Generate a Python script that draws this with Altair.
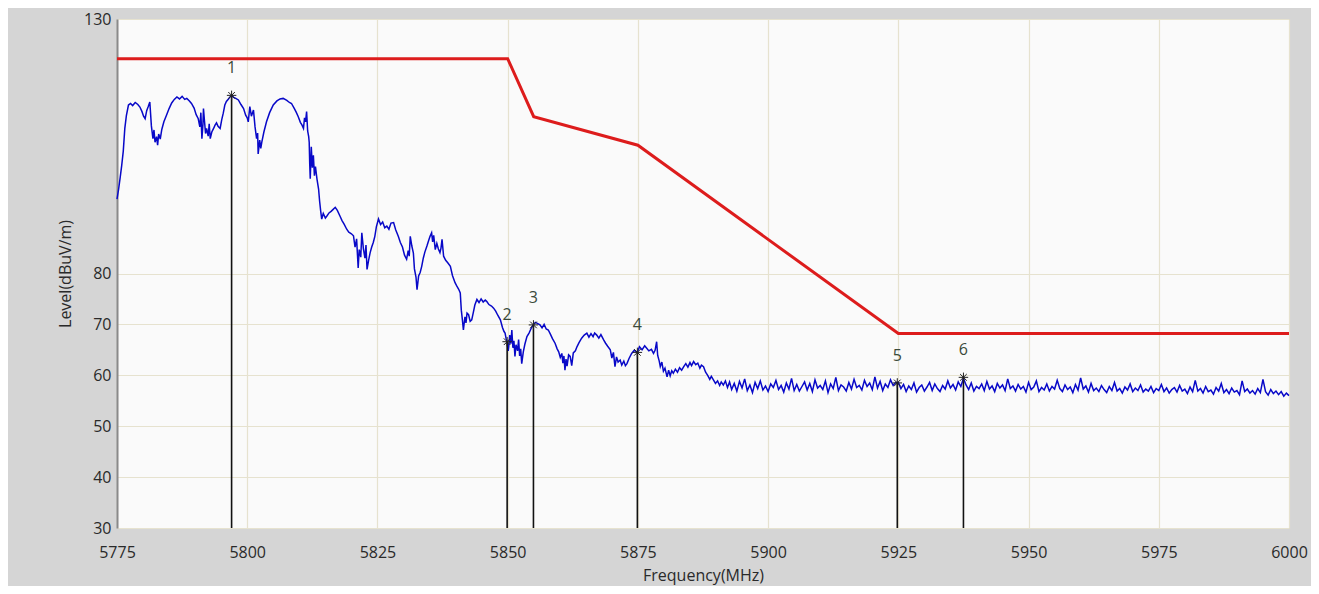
import altair as alt
import pandas as pd

trace_freq = [
    5775.0, 5775.3, 5775.6, 5775.9, 5776.2, 5776.5, 5776.8, 5777.2, 5777.6, 5778.0,
    5778.5, 5779.0, 5779.4, 5779.8, 5780.1, 5780.4, 5780.7, 5781.0, 5781.3, 5781.6,
    5781.9, 5782.1, 5782.3, 5782.6, 5782.8, 5783.0, 5783.3, 5783.6, 5784.0, 5784.5,
    5785.0, 5785.5, 5786.0, 5786.5, 5787.0, 5787.5, 5788.0, 5788.4, 5788.9, 5789.3,
    5789.8, 5790.2, 5790.6, 5790.9, 5791.1, 5791.3, 5791.5, 5791.6, 5791.8, 5792.0,
    5792.2, 5792.5, 5792.7, 5792.9, 5793.2, 5793.5, 5793.8, 5794.1, 5794.4, 5794.8,
    5795.1, 5795.4, 5795.7, 5796.0, 5796.4, 5796.7, 5797.0, 5797.4, 5797.8, 5798.3,
    5798.8, 5799.3, 5799.7, 5800.0, 5800.2, 5800.5, 5800.8, 5801.2, 5801.5, 5801.8,
    5802.0, 5802.1, 5802.4, 5802.6, 5802.8, 5803.2, 5803.7, 5804.3, 5805.0, 5805.7,
    5806.3, 5806.9, 5807.6, 5808.1, 5808.5, 5809.0, 5809.4, 5809.8, 5810.2, 5810.5,
    5810.8, 5811.0, 5811.2, 5811.4, 5811.6, 5811.8, 5811.9, 5812.0, 5812.1, 5812.3,
    5812.5, 5812.7, 5812.9, 5813.1, 5813.4, 5813.7, 5813.9, 5814.1, 5814.3, 5814.6,
    5815.0, 5815.3, 5815.7, 5816.1, 5816.5, 5816.9, 5817.3, 5817.8, 5818.2, 5818.6,
    5819.1, 5819.5, 5820.0, 5820.4, 5820.7, 5821.0, 5821.3, 5821.5, 5821.8, 5822.0,
    5822.3, 5822.6, 5822.8, 5823.0, 5823.3, 5823.6, 5823.9, 5824.2, 5824.5, 5824.8,
    5825.2, 5825.6, 5826.0, 5826.4, 5826.8, 5827.2, 5827.6, 5828.1, 5828.5, 5829.0,
    5829.4, 5829.8, 5830.2, 5830.6, 5830.9, 5831.1, 5831.3, 5831.6, 5831.9, 5832.1,
    5832.4, 5832.6, 5832.9, 5833.2, 5833.5, 5833.8, 5834.1, 5834.5, 5834.8, 5835.1,
    5835.4, 5835.6, 5835.8, 5836.1, 5836.4, 5836.7, 5837.0, 5837.2, 5837.4, 5837.7,
    5838.1, 5838.5, 5839.0, 5839.4, 5839.9, 5840.3, 5840.6, 5840.9, 5841.1, 5841.3,
    5841.5, 5841.8, 5842.0, 5842.2, 5842.5, 5842.8, 5843.1, 5843.4, 5843.7, 5844.1,
    5844.5, 5844.9, 5845.3, 5845.7, 5846.0, 5846.4, 5846.9, 5847.3, 5847.7, 5848.1,
    5848.6, 5849.0, 5849.3, 5849.5, 5849.7, 5849.9, 5850.1, 5850.2, 5850.4, 5850.6,
    5850.8, 5851.0, 5851.2, 5851.4, 5851.6, 5851.9, 5852.1, 5852.3, 5852.5, 5852.7,
    5853.0, 5853.3, 5853.7, 5854.1, 5854.5, 5854.9, 5855.3, 5855.7, 5856.2, 5856.6,
    5857.0, 5857.4, 5857.8, 5858.2, 5858.6, 5859.1, 5859.5, 5859.8, 5860.1, 5860.4,
    5860.6, 5860.8, 5861.0, 5861.2, 5861.4, 5861.7, 5862.0, 5862.3, 5862.6, 5863.0,
    5863.3, 5863.7, 5864.2, 5864.7, 5865.2, 5865.6, 5866.0, 5866.4, 5866.7, 5867.1,
    5867.5, 5867.9, 5868.4, 5868.8, 5869.2, 5869.7, 5870.0, 5870.3, 5870.6, 5870.9,
    5871.2, 5871.6, 5871.9, 5872.3, 5872.6, 5872.9, 5873.3, 5873.8, 5874.3, 5874.9,
    5875.3, 5875.8, 5876.3, 5876.7, 5877.1, 5877.6, 5878.0, 5878.3, 5878.6, 5878.8,
    5879.1, 5879.3, 5879.6, 5879.9, 5880.2, 5880.6, 5880.9, 5881.2, 5881.5, 5881.8,
    5882.2, 5882.6, 5883.0, 5883.4, 5883.8, 5884.2, 5884.6, 5885.0, 5885.3, 5885.7,
    5886.1, 5886.5, 5886.9, 5887.2, 5887.6, 5888.0, 5888.4, 5888.8, 5889.1, 5889.5,
    5889.9, 5890.3, 5890.7, 5891.0, 5891.4, 5891.8, 5892.2, 5892.6,
]
trace_level = [
    94.6, 96.5, 98.8, 101.2, 104.0, 108.5, 111.0, 113.1, 113.4, 113.0,
    113.6, 113.2, 112.7, 111.8, 110.9, 110.4, 112.0, 112.8, 113.7, 109.0,
    106.5, 108.2, 105.8, 106.9, 105.2, 107.4, 106.4, 108.3, 109.8, 111.1,
    112.4, 113.5, 114.2, 114.7, 114.3, 114.8, 114.2, 114.4, 113.9, 113.4,
    112.5, 111.2, 110.4, 108.8, 111.6, 106.5, 109.3, 112.4, 109.9, 107.5,
    108.5, 107.0, 109.4, 106.5, 107.8, 108.4, 109.1, 109.6, 108.9, 108.5,
    110.2, 111.5, 113.1, 113.8, 114.3, 114.7, 115.0, 114.6, 114.4, 114.1,
    113.2, 112.4, 111.1, 110.6, 109.8, 112.8, 110.9, 112.1, 108.8, 106.5,
    107.6, 103.5, 106.2, 104.6, 105.8, 107.8, 109.8, 111.6, 113.1, 113.9,
    114.3, 114.4, 114.0, 113.6, 113.4, 112.5, 111.7, 110.8, 109.7, 109.2,
    108.5, 110.6, 109.8, 111.8, 108.0, 106.9, 105.8, 101.5, 98.6, 104.9,
    100.8, 103.2, 99.2, 101.0, 98.5, 96.6, 94.2, 92.3, 90.7, 91.8,
    90.9, 91.3, 91.9, 92.2, 92.6, 93.0, 92.4, 91.3, 90.4, 89.7,
    88.7, 88.1, 87.8, 87.4, 85.2, 86.8, 81.1, 84.7, 83.2, 88.0,
    84.9, 83.0, 85.6, 80.8, 82.6, 84.1, 85.2, 86.1, 87.3, 89.2,
    90.7, 89.6, 90.1, 89.0, 89.3, 88.7, 89.9, 90.0, 88.6, 87.3,
    86.1, 85.2, 83.6, 82.8, 84.5, 83.4, 87.3, 85.4, 84.0, 80.9,
    79.3, 76.8, 79.5, 80.2, 81.4, 83.0, 84.2, 85.4, 86.4, 87.3,
    88.0, 86.2, 87.5, 84.7, 85.9, 84.8, 84.1, 85.0, 86.7, 83.4,
    82.6, 82.1, 81.4, 79.6, 78.2, 77.4, 76.9, 76.2, 72.8, 71.0,
    68.9, 71.5, 70.3, 72.2, 71.9, 70.6, 70.9, 72.3, 73.8, 74.9,
    74.3, 75.0, 74.4, 74.8, 74.5, 73.9, 73.6, 73.2, 72.6, 71.8,
    70.9, 69.4, 68.6, 68.3, 67.2, 66.6, 64.8, 65.6, 67.9, 66.2,
    68.9, 65.4, 66.8, 63.7, 66.0, 64.8, 67.0, 63.8, 65.2, 62.3,
    64.6, 66.1, 67.6, 68.3, 69.2, 69.9, 70.4, 70.2, 69.9, 69.3,
    70.0, 69.1, 68.9, 68.1, 67.2, 66.3, 65.2, 64.6, 63.5, 64.3,
    62.4, 63.8, 61.0, 63.2, 61.8, 64.0, 63.7, 61.9, 64.4, 64.8,
    65.6, 66.4, 67.3, 67.9, 68.3, 67.5, 68.2, 67.6, 68.3, 67.9,
    67.3, 68.0, 67.0, 66.3, 65.7, 65.0, 63.4, 64.5, 61.7, 63.6,
    62.6, 63.0, 62.0, 62.8, 61.9, 62.3, 63.3, 64.3, 64.9, 64.5,
    65.6, 65.0, 65.8, 65.3, 64.8, 65.1, 64.3, 64.9, 66.6, 63.9,
    62.8, 61.7, 62.6, 60.8, 61.4, 59.7, 61.0, 59.9, 60.9, 60.4,
    61.2, 60.6, 61.5, 61.0, 61.7, 62.3, 61.6, 62.5, 61.9, 62.7,
    62.1, 62.4, 61.4, 62.0, 61.7, 60.6, 60.0, 59.2, 59.8, 59.1,
    58.4, 58.9, 58.0, 58.7, 58.1, 58.9, 57.6, 58.7,
]

# flat noisy part of the sweep, sampled every 0.5 MHz from 5893 MHz
noise_start = 5893.0
noise_step = 0.5
noise_level = [
    57.2, 58.4, 56.9, 58.8, 57.5, 59.3, 57.0, 58.1, 56.6, 58.6,
    57.4, 58.9, 57.1, 57.9, 56.8, 58.3, 57.6, 59.0, 57.2, 58.0,
    56.7, 58.5, 57.3, 59.4, 57.0, 58.2, 56.9, 57.8, 58.7, 57.1,
    58.4, 56.8, 59.1, 57.5, 58.0, 57.2, 58.9, 56.6, 58.3, 57.4,
    59.6, 57.0, 58.1, 57.7, 56.9, 58.6, 57.3, 59.2, 57.6, 58.0,
    57.1, 59.0, 57.8, 58.5, 57.2, 59.7, 57.5, 58.8, 57.0, 58.3,
    57.6, 59.1, 58.0, 58.6, 58.6, 57.4, 58.2, 56.8, 57.9, 57.2,
    58.5, 56.7, 57.6, 58.1, 56.9, 57.7, 58.6, 57.0, 58.3, 57.4,
    56.8, 58.0, 57.3, 58.9, 57.5, 58.2, 57.1, 58.7, 57.8, 59.4,
    58.1, 57.2, 58.5, 56.9, 57.8, 57.4, 58.3, 57.0, 58.8, 57.3,
    57.9, 56.8, 58.4, 57.5, 58.1, 57.0, 59.3, 57.4, 57.9, 56.9,
    58.2, 57.3, 57.8, 56.7, 58.6, 57.2, 57.7, 58.9, 56.8, 57.6,
    57.1, 58.3, 56.9, 57.8, 57.3, 59.0, 57.4, 56.8, 58.1, 57.2,
    57.7, 56.6, 58.2, 57.1, 59.5, 57.3, 57.9, 56.7, 58.4, 57.0,
    57.5, 56.8, 58.0, 57.2, 56.6, 57.8, 57.0, 58.6, 56.9, 57.4,
    56.5, 57.7, 57.1, 58.3, 56.8, 57.5, 57.0, 58.1, 56.7, 57.3,
    56.9, 57.8, 56.6, 57.4, 57.0, 58.2, 56.8, 57.5, 56.5, 57.2,
    57.6, 56.7, 58.0, 56.9, 57.3, 56.4, 57.7, 56.8, 59.0, 56.9,
    57.4, 56.5, 57.8, 56.8, 57.1, 56.3, 57.6, 56.9, 58.4, 56.6,
    57.2, 56.4, 57.5, 56.7, 57.0, 56.2, 58.9, 56.8, 57.3, 56.5,
    57.0, 56.3, 57.4, 56.6, 59.2, 56.8, 56.1, 57.2, 56.4, 56.9,
    56.2, 56.8, 55.9, 56.5, 56.0,
]

# ---- limit line ----
limit_freq = [5775, 5850, 5855, 5875, 5925, 6000]
limit_level = [122.2, 122.2, 110.8, 105.2, 68.2, 68.2]

# ---- markers ----
marker_id = ["1", "2", "3", "4", "5", "6"]
marker_freq = [5797.0, 5849.9, 5854.95, 5874.9, 5924.8, 5937.5]
marker_level = [115.0, 66.6, 69.9, 64.5, 58.5, 59.6]

x_ticks = [5775, 5800, 5825, 5850, 5875, 5900, 5925, 5950, 5975, 6000]
y_ticks = [30, 40, 50, 60, 70, 80, 130]

noise_freq = [noise_start + noise_step * i for i in range(len(noise_level))]
trace = pd.DataFrame({"f": trace_freq + noise_freq, "v": trace_level + noise_level})
limit = pd.DataFrame({"f": limit_freq, "v": limit_level})
markers = pd.DataFrame({"id": marker_id, "f": marker_freq, "v": marker_level,
                        "base": [30] * len(marker_id)})

FONT = "Open Sans"
TXT = "#2a2a2a"
GRID = "#e6e2cf"
xscale = alt.Scale(domain=[5775, 6000], nice=False, zero=False)
yscale = alt.Scale(domain=[30, 130], nice=False, zero=False)

x_enc = alt.X("f:Q", scale=xscale,
              axis=alt.Axis(values=x_ticks, title="Frequency(MHz)", format="d",
                            grid=True, gridColor=GRID, gridWidth=1.2,
                            domain=False, ticks=False, labelPadding=16,
                            labelFontSize=16, labelColor=TXT, labelFont=FONT,
                            titleFont=FONT, titleFontSize=16, titleFontWeight="normal",
                            titleColor=TXT, titleY=39, titleBaseline="top", labelFlush=False))
y_enc = alt.Y("v:Q", scale=yscale,
              axis=alt.Axis(values=y_ticks, title="Level(dBuV/m)", format="d",
                            grid=True, gridColor=GRID, gridWidth=1.2,
                            domain=True, domainColor="#8a8a8a", domainWidth=2,
                            ticks=False, labelPadding=6,
                            labelFontSize=16, labelColor=TXT, labelFont=FONT,
                            titleFont=FONT, titleFontSize=16, titleFontWeight="normal",
                            titleColor=TXT, titlePadding=10, labelFlush=False))

base_trace = alt.Chart(trace).mark_line(color="#0808c8", strokeWidth=1.5).encode(x=x_enc, y=y_enc)

limit_line = alt.Chart(limit).mark_line(color="#dd1c1c", strokeWidth=3).encode(
    x=alt.X("f:Q", scale=xscale), y=alt.Y("v:Q", scale=yscale))

marker_rules = alt.Chart(markers).mark_rule(color="#111111", strokeWidth=1.6).encode(
    x=alt.X("f:Q", scale=xscale), y=alt.Y("base:Q", scale=yscale), y2="v:Q")

STAR = "M-1,0L1,0M0,-1L0,1M-0.7,-0.7L0.7,0.7M-0.7,0.7L0.7,-0.7"
marker_star = alt.Chart(markers).mark_point(shape=STAR, size=90, filled=False,
                                             color="#222222", strokeWidth=1, opacity=1).encode(
    x=alt.X("f:Q", scale=xscale), y=alt.Y("v:Q", scale=yscale))

marker_text = alt.Chart(markers).mark_text(dy=-27, fontSize=16, font=FONT, color="#3a4a3a").encode(
    x=alt.X("f:Q", scale=xscale), y=alt.Y("v:Q", scale=yscale), text="id:N")

chart = alt.layer(base_trace, limit_line, marker_rules, marker_star, marker_text).properties(
    width=1172, height=509,
    padding={"left": 109, "top": 11, "right": 22, "bottom": 58},
    autosize=alt.AutoSizeParams(type="none"),
    background="#d5d5d5",
).configure_view(fill="#fafafa", stroke="#b8b8b8", strokeWidth=1)

chart.save("out.html", embed_options={"renderer": "svg", "actions": False})
